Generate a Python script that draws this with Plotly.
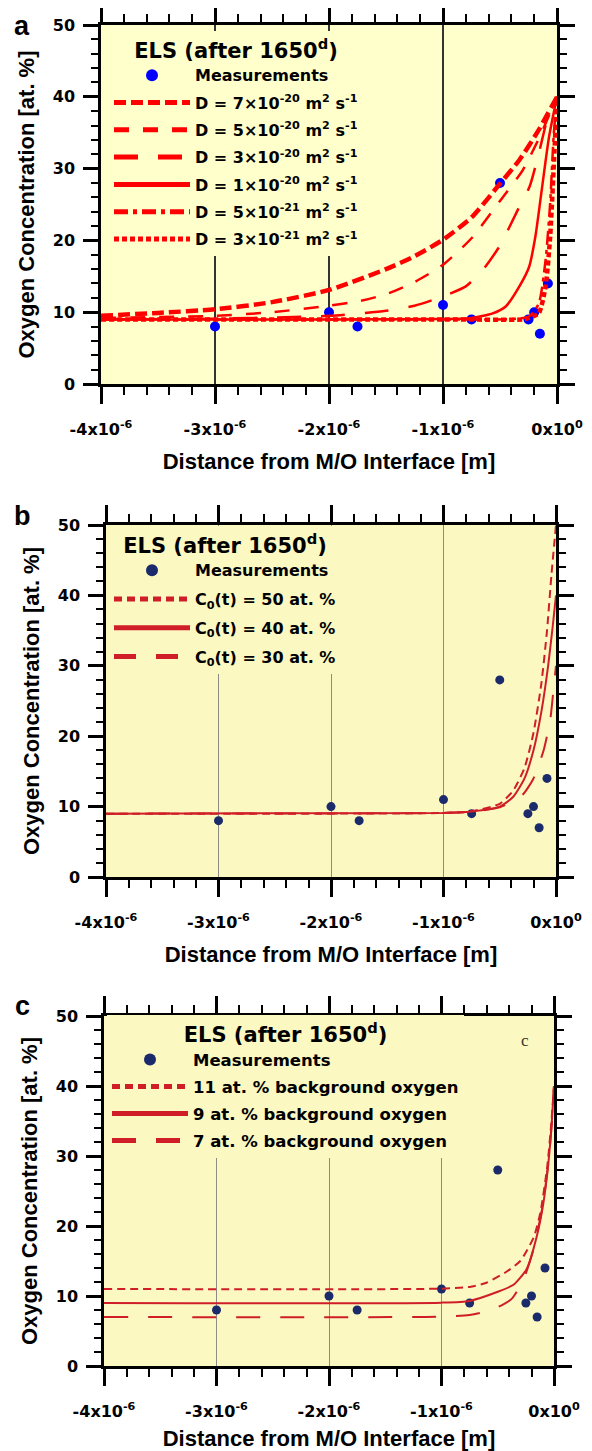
import plotly.graph_objects as go

# ---------------- data (x in micrometres, y in at. %) ----------------
meas_x_um = [-3.0, -2.0, -1.75, -1.0, -0.75, -0.5, -0.25, -0.2, -0.15, -0.08]
meas_y = [8, 10, 8, 11, 9, 28, 9, 10, 7, 14]

# panel a: different diffusion coefficients
a_d7e20_x = [-4, -3.5, -3, -2.5, -2, -1.5, -1.25, -1, -0.75, -0.5, -0.33, -0.16, 0]
a_d7e20_y = [9.5, 9.9, 10.4, 11.4, 13.1, 16.0, 17.8, 20.1, 23.2, 27.9, 31.2, 35.4, 40]
a_d5e20_x = [-4, -3, -2.5, -2, -1.75, -1.5, -1.25, -1, -0.75, -0.5, -0.3, -0.15, 0]
a_d5e20_y = [9.2, 9.5, 10.0, 10.9, 11.5, 12.5, 14.2, 16.6, 20.3, 25.5, 29.8, 34.5, 40]
a_d3e20_x = [-4, -3, -2, -1.5, -1.25, -1, -0.8, -0.65, -0.5, -0.33, -0.24, -0.16, -0.1, -0.05, 0]
a_d3e20_y = [9.0, 9.1, 9.5, 10.2, 10.9, 12.2, 13.6, 15.9, 19.3, 24.7, 27.5, 32.1, 36.0, 38.5, 40]
a_d1e20_x = [-4, -2, -1, -0.77, -0.57, -0.45, -0.33, -0.245, -0.19, -0.13, -0.07, 0]
a_d1e20_y = [9, 9, 9.05, 9.15, 9.8, 10.8, 13.6, 16.3, 20.5, 27.5, 34.4, 40]
a_d5e21_x = [-4, -1, -0.4, -0.245, -0.16, -0.1, -0.06, -0.03, 0]
a_d5e21_y = [9, 9, 9.05, 9.4, 11.2, 17.3, 25.2, 34.4, 40]
a_d3e21_x = [-4, -1, -0.3, -0.245, -0.16, -0.1, -0.06, -0.03, 0]
a_d3e21_y = [9, 9, 9.0, 9.2, 9.85, 13.6, 20.5, 29.8, 40]

# panel b: different surface concentrations C0(t)
b_c50_x = [-4, -1, -0.75, -0.5, -0.38, -0.28, -0.2, -0.13, -0.08, -0.04, 0]
b_c50_y = [9, 9.1, 9.35, 10.4, 12.3, 15.5, 20.5, 27.5, 35, 43, 50]
b_c40_x = [-4, -1, -0.75, -0.5, -0.38, -0.28, -0.2, -0.13, -0.07, -0.03, 0]
b_c40_y = [9, 9.1, 9.3, 10.0, 11.4, 14.0, 18, 23.5, 30, 35.5, 40]
b_c30_x = [-4, -1, -0.75, -0.5, -0.4, -0.29, -0.2, -0.11, -0.05, -0.02, 0]
b_c30_y = [9, 9.1, 9.25, 9.9, 10.6, 11.8, 14.0, 18.0, 22.5, 27, 30]

# panel c: different background oxygen
c_b11_x = [-4, -1, -0.75, -0.6, -0.42, -0.3, -0.18, -0.12, -0.06, -0.025, 0]
c_b11_y = [11, 11.05, 11.3, 11.9, 13.5, 15.0, 18.4, 22, 28.5, 34.5, 40]
c_b9_x = [-4, -1, -0.75, -0.5, -0.36, -0.245, -0.155, -0.095, -0.05, -0.02, 0]
c_b9_y = [9, 9.05, 9.3, 10.6, 11.6, 13.8, 18.4, 23.2, 29, 34.8, 40]
c_b7_x = [-4, -1, -0.75, -0.6, -0.45, -0.37, -0.27, -0.18, -0.1, -0.05, -0.02, 0]
c_b7_y = [7, 7.05, 7.3, 7.8, 8.8, 9.7, 12.4, 16.8, 23, 29, 34.5, 40]

x_tick_um = [-4, -3, -2, -1, 0]
x_tick_text = ["-4x10<sup>-6</sup>", "-3x10<sup>-6</sup>", "-2x10<sup>-6</sup>",
               "-1x10<sup>-6</sup>", "0x10<sup>0</sup>"]
y_ticks = [0, 10, 20, 30, 40, 50]

# ---------------- styling ----------------
TITLE_FONT = "Liberation Sans"
TICK_FONT = "DejaVu Sans"
OFF = 8                      # browser body margin
W, H = 592 - OFF, 1451 - OFF
BG_A = "#FFFFCC"
BG_BC = "#FBF8C2"
RED_A = "#FF0000"
RED_BC = "#D01E28"
DOT_A = "#0000FF"
DOT_BC = "#1B2A6B"


def m(v):
    return [u * 1e-6 for u in v]


def X(px):
    return (px - OFF) / W


def Y(px):
    return 1 - (px - OFF) / H


fig = go.Figure()

# ---- panel a ----
fig.add_trace(go.Scatter(x=m(meas_x_um), y=meas_y, mode="markers", name="Measurements",
                         marker=dict(color=DOT_A, size=10), xaxis="x", yaxis="y",
                         legend="legend", legendgroup="a0"))
a_series = [
    (a_d7e20_x, a_d7e20_y, "D = 7×10<sup>-20</sup> m<sup>2</sup> s<sup>-1</sup>", 4.5, "12px,5px"),
    (a_d5e20_x, a_d5e20_y, "D = 5×10<sup>-20</sup> m<sup>2</sup> s<sup>-1</sup>", 2.5, "15px,14px"),
    (a_d3e20_x, a_d3e20_y, "D = 3×10<sup>-20</sup> m<sup>2</sup> s<sup>-1</sup>", 2.5, "24px,20px"),
    (a_d1e20_x, a_d1e20_y, "D = 1×10<sup>-20</sup> m<sup>2</sup> s<sup>-1</sup>", 2.5, "solid"),
    (a_d5e21_x, a_d5e21_y, "D = 5×10<sup>-21</sup> m<sup>2</sup> s<sup>-1</sup>", 2.5, "14px,5px,4px,5px"),
    (a_d3e21_x, a_d3e21_y, "D = 3×10<sup>-21</sup> m<sup>2</sup> s<sup>-1</sup>", 4.5, "5px,3px"),
]
for i, (xs, ys, name, w, dash) in enumerate(a_series):
    fig.add_trace(go.Scatter(x=m(xs), y=ys, mode="lines", name=name,
                             line=dict(color=RED_A, width=w, dash=dash, shape="spline", smoothing=0.6),
                             xaxis="x", yaxis="y", legend="legend", legendgroup=f"a{i+1}"))

# ---- panel b ----
fig.add_trace(go.Scatter(x=m(meas_x_um), y=meas_y, mode="markers", name="Measurements",
                         marker=dict(color=DOT_BC, size=9), xaxis="x2", yaxis="y2",
                         legend="legend2", legendgroup="b0"))
b_series = [
    (b_c50_x, b_c50_y, "C<sub>0</sub>(t) = 50 at. %", 2, "8px,5px"),
    (b_c40_x, b_c40_y, "C<sub>0</sub>(t) = 40 at. %", 2, "solid"),
    (b_c30_x, b_c30_y, "C<sub>0</sub>(t) = 30 at. %", 2, "22px,20px"),
]
for i, (xs, ys, name, w, dash) in enumerate(b_series):
    fig.add_trace(go.Scatter(x=m(xs), y=ys, mode="lines", name=name,
                             line=dict(color=RED_BC, width=w, dash=dash, shape="spline", smoothing=0.6),
                             xaxis="x2", yaxis="y2", legend="legend2", legendgroup=f"b{i+1}"))

# ---- panel c ----
fig.add_trace(go.Scatter(x=m(meas_x_um), y=meas_y, mode="markers", name="Measurements",
                         marker=dict(color=DOT_BC, size=9), xaxis="x3", yaxis="y3",
                         legend="legend3", legendgroup="c0"))
c_series = [
    (c_b11_x, c_b11_y, "11 at. % background oxygen", 2, "8px,5px"),
    (c_b9_x, c_b9_y, "9 at. % background oxygen", 2, "solid"),
    (c_b7_x, c_b7_y, "7 at. % background oxygen", 2, "24px,20px"),
]
for i, (xs, ys, name, w, dash) in enumerate(c_series):
    fig.add_trace(go.Scatter(x=m(xs), y=ys, mode="lines", name=name,
                             line=dict(color=RED_BC, width=w, dash=dash, shape="spline", smoothing=0.6),
                             xaxis="x3", yaxis="y3", legend="legend3", legendgroup=f"c{i+1}"))


def xaxis_style(x0, x1, anchor, gridcolor, gridwidth):
    return dict(
        domain=[X(x0), X(x1)], anchor=anchor, range=[-4e-6, 0], automargin=False,
        tickmode="array", tickvals=m(x_tick_um), ticktext=x_tick_text,
        ticks="outside", ticklen=17, tickwidth=2.5, tickcolor="black",
        showline=True, linewidth=2.5, linecolor="black", mirror="ticks",
        minor=dict(dtick=0.2e-6, tick0=0, ticks="outside", ticklen=8, tickwidth=2,
                   tickcolor="black", showgrid=False),
        showgrid=True, gridcolor=gridcolor, gridwidth=gridwidth, zeroline=False,
        tickfont=dict(family=TICK_FONT, size=16, color="black", weight="bold"),
        ticklabelstandoff=12,
        title=dict(text="Distance from M/O Interface [m]",
                   font=dict(family=TITLE_FONT, size=22, color="black", weight="bold"), standoff=16),
    )


def yaxis_style(top, bottom, anchor):
    return dict(
        domain=[Y(bottom), Y(top)], anchor=anchor, range=[0, 50], automargin=False,
        tickmode="array", tickvals=y_ticks,
        ticks="outside", ticklen=15, tickwidth=2.5, tickcolor="black",
        showline=True, linewidth=2.5, linecolor="black", mirror="ticks",
        minor=dict(dtick=2, tick0=0, ticks="outside", ticklen=7, tickwidth=2,
                   tickcolor="black", showgrid=False),
        showgrid=False, zeroline=False,
        tickfont=dict(family=TICK_FONT, size=16, color="black", weight="bold"),
        ticklabelstandoff=5,
        title=dict(text="Oxygen Concentration [at. %]",
                   font=dict(family=TITLE_FONT, size=22, color="black", weight="bold"), standoff=13),
    )


def legend_style(x_px, y_px, bg, size, gap):
    return dict(
        x=X(x_px), y=Y(y_px), xanchor="left", yanchor="top",
        bgcolor=bg, borderwidth=0, itemwidth=76, itemsizing="constant",
        traceorder="grouped", tracegroupgap=gap,
        font=dict(family=TICK_FONT, size=size, color="black", weight="bold"),
        title=dict(text="ELS (after 1650<sup>d</sup>)", side="top center",
                   font=dict(family=TICK_FONT, size=21, color="black", weight="bold")),
    )


fig.update_layout(
    template="none",
    width=W, height=H, margin=dict(l=0, r=0, t=0, b=0, autoexpand=False),
    paper_bgcolor="white", plot_bgcolor="rgba(0,0,0,0)",
    font=dict(family=TITLE_FONT, color="black", weight="bold"),
    xaxis=xaxis_style(101, 557, "y", "#333333", 1.5),
    yaxis=yaxis_style(25, 384, "x"),
    xaxis2=xaxis_style(106, 556, "y2", "#8C8C84", 1),
    yaxis2=yaxis_style(525, 877, "x2"),
    xaxis3=xaxis_style(104, 554, "y3", "#8C8C84", 1),
    yaxis3=yaxis_style(1016, 1366, "x3"),
    legend=legend_style(109, 31, BG_A, 16, 3.5),
    legend2=legend_style(109, 526, BG_BC, 16, 5),
    legend3=legend_style(107, 1015, BG_BC, 16.5, 2.5),
    showlegend=True,
)

for xr, yr, bg in [("x", "y", BG_A), ("x2", "y2", BG_BC), ("x3", "y3", BG_BC)]:
    fig.add_shape(type="rect", xref=f"{xr} domain", yref=f"{yr} domain", x0=0, x1=1, y0=0, y1=1,
                  fillcolor=bg, line=dict(width=0), layer="below")

for lab, ypx in [("a", 26), ("b", 516), ("c", 1006)]:
    fig.add_annotation(text=lab, x=X(22), y=Y(ypx), xref="paper", yref="paper",
                       showarrow=False, xanchor="center", yanchor="middle", borderpad=0,
                       font=dict(family=TITLE_FONT, size=27, color="black", weight="bold"))

fig.add_annotation(text="c", x=X(525), y=Y(1040), xref="paper", yref="paper", showarrow=False,
                   xanchor="center", yanchor="middle",
                   font=dict(family="Liberation Serif", size=17, color="#333333", weight="normal"))

fig.write_html("out.html")
